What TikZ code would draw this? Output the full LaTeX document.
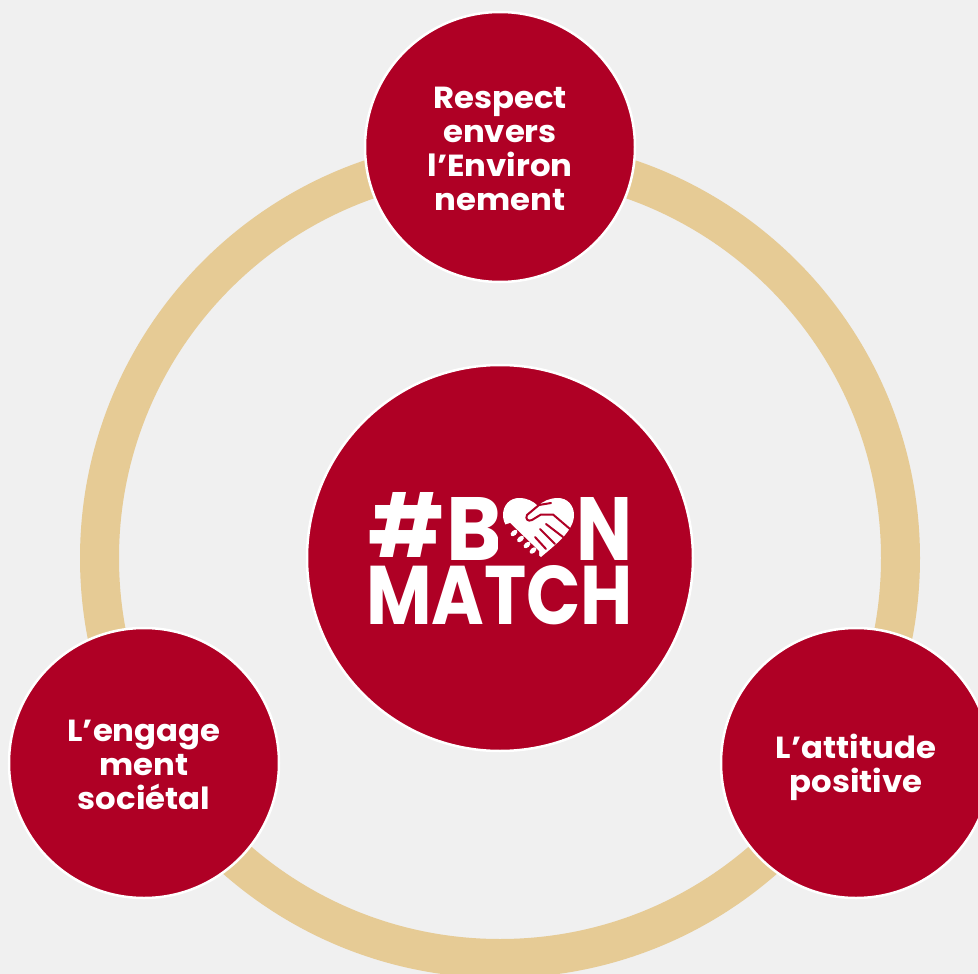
\documentclass[tikz,border=0pt]{standalone}
\usepackage{fontspec}
\usepackage{graphicx}
\usetikzlibrary{shapes.geometric}
\setmainfont{Poppins}
\newfontfamily\labelfont[FakeStretch=1.06]{Poppins}
\definecolor{bg}{HTML}{F0F0F0}
\definecolor{ringc}{HTML}{E6CB95}
\definecolor{wine}{HTML}{AF0025}
\tikzset{
  bubble/.style={circle,fill=wine,draw=white,line width=2.5pt,minimum size=270pt,inner sep=0pt},
  bubbletext/.style={inner sep=0pt,align=center,text=white,font=\labelfont\bfseries\fontsize{30.5}{34}\selectfont},
  logopart/.style={inner sep=0pt,outer sep=0pt,text=white,anchor=south west,font=\bfseries},
  shake/.style={draw=wine,line width=2pt,line cap=round,line join=round,fill=none},
  finger/.style={fill=white,ellipse,minimum width=8pt,minimum height=5pt,inner sep=0pt,rotate=42}
}
\begin{document}
\begin{tikzpicture}[x=1pt,y=-1pt]
\useasboundingbox (0,0) rectangle (978,974);
\clip (0,0) rectangle (978,974);
\fill[bg] (0,0) rectangle (978,974);
\coordinate (c) at (500,558);
\draw[ringc,line width=39pt] (c) circle[radius=400.5pt];
\node[bubble] (top) at (500,147) {};
\node[bubble] (left) at (144,763) {};
\node[bubble] (right) at (856,763) {};
\node[bubble,minimum size=386pt] (center) at (c) {};
\node[bubbletext] (toptext) at (500,148.5) {Respect\\envers\\l’Environ\\nement};
\node[bubbletext] (lefttext) at (144,765) {L’engage\\ment\\sociétal};
\node[bubbletext] (righttext) at (856,767) {L’attitude\\positive};
\node[logopart] (hash) at (368,557) {\resizebox{76pt}{65pt}{\#}};
\node[logopart] (b) at (446,560) {\resizebox{56pt}{63pt}{B}};
\node[logopart] (n) at (576,560) {\resizebox{56pt}{63pt}{N}};
\node[logopart] (match) at (366,625) {\resizebox{267pt}{59pt}{MATCH}};
% heart with handshake
\fill[white] (541,557) .. controls (526,545) and (503,532) .. (503,515)
  .. controls (503,505) and (510,498) .. (519,498)
  .. controls (527,498) and (533,501) .. (538,506)
  .. controls (543,501) and (550,498) .. (558,498)
  .. controls (567,498) and (574,505) .. (574,515)
  .. controls (574,531) and (555,545) .. (541,557) -- cycle;
\fill[wine] (498,527) -- (510,523) -- (539,551) -- (539,562) -- (498,562) -- cycle;
\node[finger] (f1) at (514,533) {};
\node[finger] (f2) at (520.5,539) {};
\node[finger] (f3) at (527,545) {};
\node[finger] (f4) at (533,550.5) {};
\draw[shake] (551,503) -- (539,505) -- (527,515) .. controls (525,519) and (528,522) .. (532,520) -- (541,514.5) -- (553,514.5) -- (570,529);
\draw[shake] (546,524) -- (563,537);
\draw[shake] (540,529) -- (555,544);
\draw[shake] (535,537) -- (546,549);
\end{tikzpicture}
\end{document}
